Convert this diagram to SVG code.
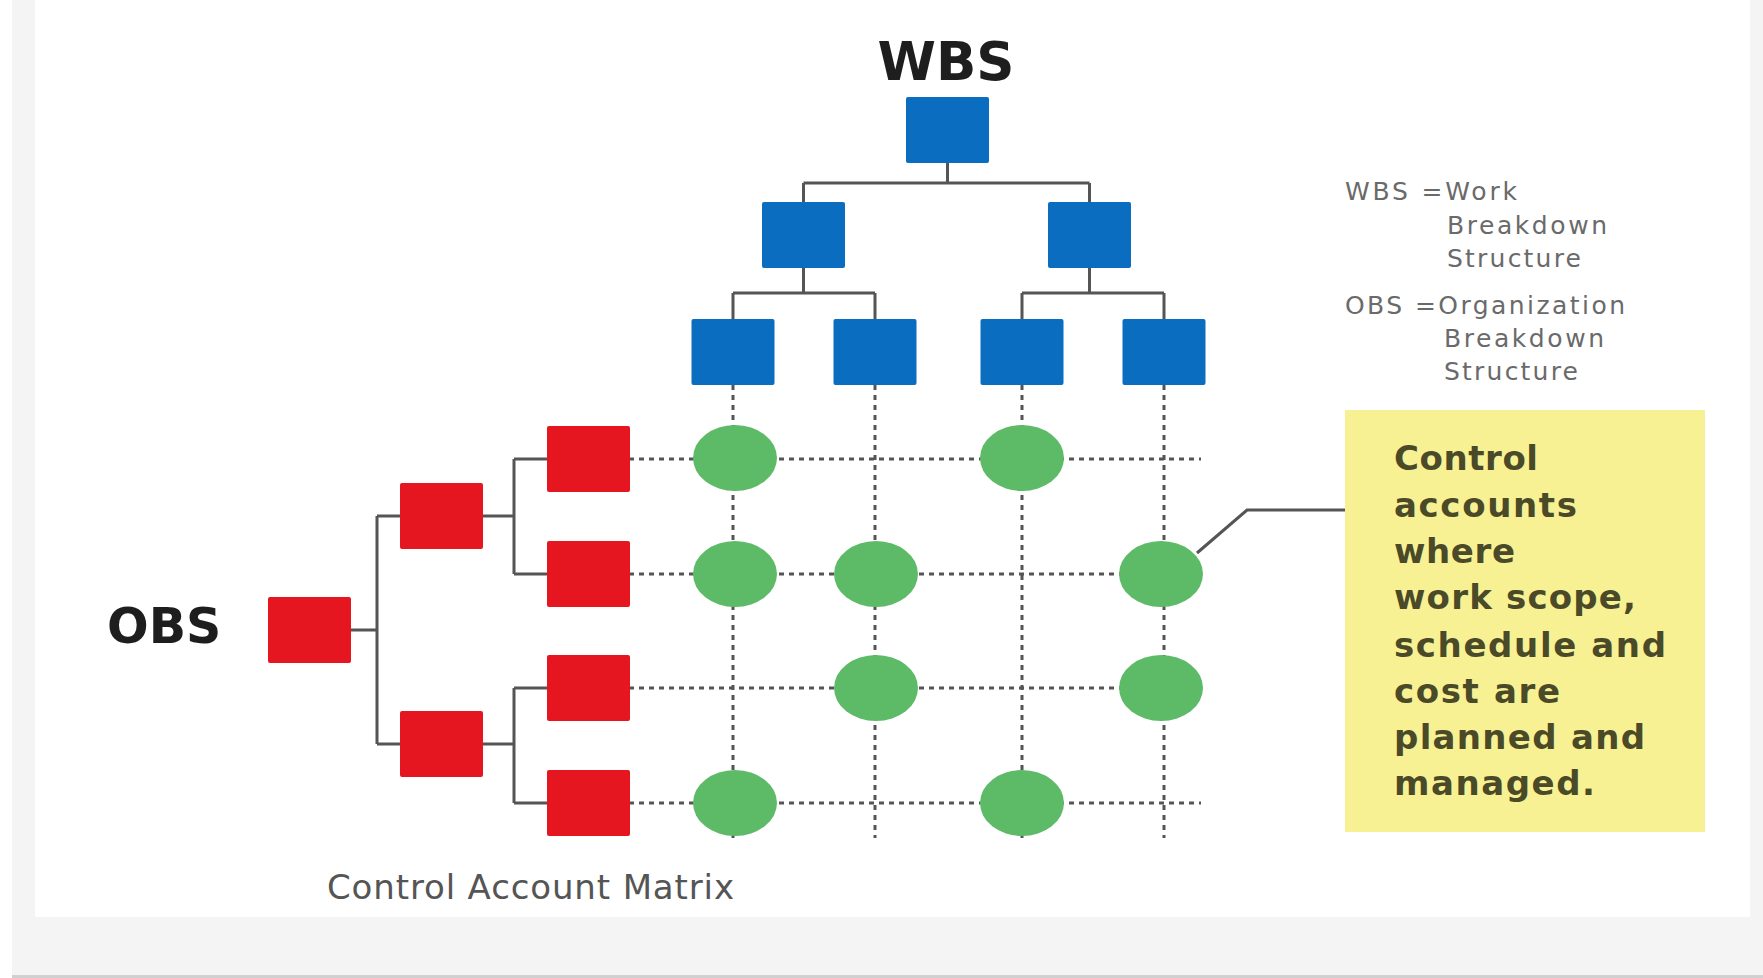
<svg xmlns="http://www.w3.org/2000/svg" width="1763" height="978" viewBox="0 0 1763 978">
<style>
.blue{fill:#0b6dc0}
.red{fill:#e5161f}
.green{fill:#5dbb68}
.tree{stroke:#555;stroke-width:3;fill:none}
.dot{stroke:#555;stroke-width:3;stroke-dasharray:5 5;fill:none}
.title{font-family:"DejaVu Sans",sans-serif;font-weight:bold;fill:#1e1e1e}
.legend{font-family:"DejaVu Sans",sans-serif;font-size:25px;fill:#6a6a6a}
.note{font-family:"DejaVu Sans",sans-serif;font-weight:bold;font-size:34px;fill:#4a4a28}
.caption{font-family:"DejaVu Sans",sans-serif;font-size:34px;fill:#555}
</style>
<rect x="0" y="0" width="1763" height="978" fill="#ffffff"/>
<rect x="12" y="0" width="1751" height="975" fill="#f4f4f4"/>
<rect x="35" y="0" width="1715" height="917" fill="#ffffff"/>
<rect x="12" y="975" width="1751" height="3" fill="#d0d0d0"/>

<g id="connectors">
  <path class="tree" d="M947.5 163 V183 M803.5 183 H1089.5 M803.5 183 V202 M1089.5 183 V202"/>
  <path class="tree" d="M803.5 268 V293 M733 293 H875 M733 293 V319 M875 293 V319"/>
  <path class="tree" d="M1089.5 268 V293 M1022 293 H1164 M1022 293 V319 M1164 293 V319"/>
  <path class="tree" d="M351 630 H377 M377 516 V744 M377 516 H400 M377 744 H400"/>
  <path class="tree" d="M483 516 H514 M514 459 V574 M514 459 H547 M514 574 H547"/>
  <path class="tree" d="M483 744 H514 M514 688 V803 M514 688 H547 M514 803 H547"/>
  <path class="dot" d="M733 385 V838 M875 385 V838 M1022 385 V838 M1164 385 V838"/>
  <path class="dot" d="M629 459 H1201 M629 574 H1201 M629 688 H1201 M629 803 H1201"/>
  <path d="M1197 553 L1247 510 H1345" stroke="#555" stroke-width="3" fill="none"/>
</g>

<g id="wbs-label"><text class="title" x="946" y="80" font-size="53" text-anchor="middle">WBS</text></g>
<g id="wbs-root"><rect class="blue" x="906" y="97" width="83" height="66" rx="2"/></g>
<g id="wbs-1"><rect class="blue" x="762" y="202" width="83" height="66" rx="2"/></g>
<g id="wbs-2"><rect class="blue" x="1048" y="202" width="83" height="66" rx="2"/></g>
<g id="wbs-1-1"><rect class="blue" x="691.5" y="319" width="83" height="66" rx="2"/></g>
<g id="wbs-1-2"><rect class="blue" x="833.5" y="319" width="83" height="66" rx="2"/></g>
<g id="wbs-2-1"><rect class="blue" x="980.5" y="319" width="83" height="66" rx="2"/></g>
<g id="wbs-2-2"><rect class="blue" x="1122.5" y="319" width="83" height="66" rx="2"/></g>

<g id="obs-label"><text class="title" x="107" y="643" font-size="49">OBS</text></g>
<g id="obs-root"><rect class="red" x="268" y="597" width="83" height="66" rx="2"/></g>
<g id="obs-1"><rect class="red" x="400" y="483" width="83" height="66" rx="2"/></g>
<g id="obs-2"><rect class="red" x="400" y="711" width="83" height="66" rx="2"/></g>
<g id="obs-1-1"><rect class="red" x="547" y="426" width="83" height="66" rx="2"/></g>
<g id="obs-1-2"><rect class="red" x="547" y="541" width="83" height="66" rx="2"/></g>
<g id="obs-2-1"><rect class="red" x="547" y="655" width="83" height="66" rx="2"/></g>
<g id="obs-2-2"><rect class="red" x="547" y="770" width="83" height="66" rx="2"/></g>

<g id="ca-r1c1"><ellipse class="green" cx="735" cy="458" rx="42" ry="33"/></g>
<g id="ca-r1c3"><ellipse class="green" cx="1022" cy="458" rx="42" ry="33"/></g>
<g id="ca-r2c1"><ellipse class="green" cx="735" cy="574" rx="42" ry="33"/></g>
<g id="ca-r2c2"><ellipse class="green" cx="876" cy="574" rx="42" ry="33"/></g>
<g id="ca-r2c4"><ellipse class="green" cx="1161" cy="574" rx="42" ry="33"/></g>
<g id="ca-r3c2"><ellipse class="green" cx="876" cy="688" rx="42" ry="33"/></g>
<g id="ca-r3c4"><ellipse class="green" cx="1161" cy="688" rx="42" ry="33"/></g>
<g id="ca-r4c1"><ellipse class="green" cx="735" cy="803" rx="42" ry="33"/></g>
<g id="ca-r4c3"><ellipse class="green" cx="1022" cy="803" rx="42" ry="33"/></g>

<g id="caption"><text class="caption" x="327" y="899" textLength="407">Control Account Matrix</text></g>

<g id="legend">
  <text class="legend" x="1345" y="200" textLength="172">WBS =Work</text>
  <text class="legend" x="1447" y="234" textLength="160">Breakdown</text>
  <text class="legend" x="1447" y="267" textLength="134">Structure</text>
  <text class="legend" x="1345" y="314" textLength="280">OBS =Organization</text>
  <text class="legend" x="1444" y="347" textLength="160">Breakdown</text>
  <text class="legend" x="1444" y="380" textLength="134">Structure</text>
</g>

<g id="note">
  <rect x="1345" y="410" width="360" height="422" fill="#f7f193"/>
  <text class="note" x="1394" y="470" textLength="144">Control</text>
  <text class="note" x="1394" y="517" textLength="183">accounts</text>
  <text class="note" x="1394" y="563" textLength="121">where</text>
  <text class="note" x="1394" y="609" textLength="242">work scope,</text>
  <text class="note" x="1394" y="657" textLength="272">schedule and</text>
  <text class="note" x="1394" y="703" textLength="166">cost are</text>
  <text class="note" x="1394" y="749" textLength="251">planned and</text>
  <text class="note" x="1394" y="795" textLength="201">managed.</text>
</g>
</svg>
